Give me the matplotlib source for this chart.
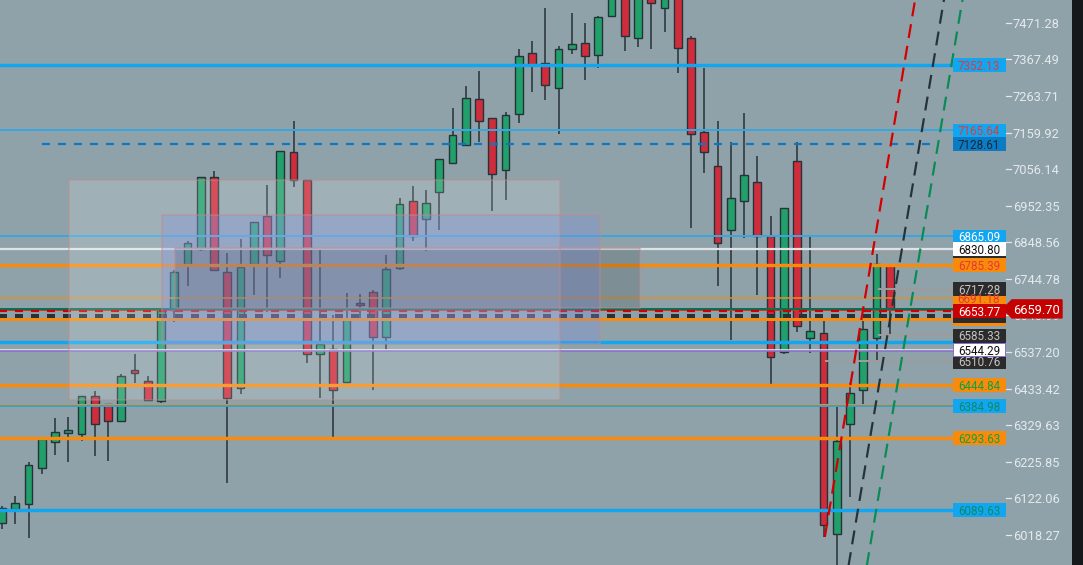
import matplotlib.pyplot as plt
import matplotlib.transforms as mtransforms
from matplotlib.patches import Rectangle, Polygon

plt.rcParams['lines.scale_dashes'] = False
FONT = ['Roboto', 'DejaVu Sans']

# candle data, one value per bar
opens = [6052.5, 6092.2, 6106.3, 6208.5, 6282.2, 6307.7, 6304.9, 6412.6, 6389.9, 6341.7,
         6486.3, 6455.2, 6398.5, 6656.5, 6787.0, 6829.5, 7033.7, 6764.3, 6435.3, 6787.0,
         6923.1, 6795.5, 7104.6, 7025.2, 6531.8, 6545.9, 6452.3, 6676.4, 6707.6, 6580.0,
         6775.6, 6965.7, 6914.6, 6991.2, 7073.4, 7124.5, 7254.9, 7201.1, 7053.6, 7212.4,
         7385.4, 7357.0, 7286.1, 7396.7, 7413.7, 7379.7, 7490.3, 7570.0, 7427.9, 7560.0,
         7513.0, 7580.0, 7427.9, 7161.3, 7064.9, 6883.4, 6965.7, 7019.5, 6866.4, 6537.4,
         7079.1, 6577.1, 6591.3, 6021.3, 6333.2, 6429.7, 6577.1, 6784.2]
highs = [6100.7, 6129.0, 6225.5, 6296.4, 6350.3, 6353.1, 6412.6, 6426.8, 6389.9, 6475.0,
         6531.8, 6469.3, 6656.5, 6770.0, 6852.2, 7033.7, 7050.7, 6818.2, 6857.9, 6906.1,
         7011.0, 7107.5, 7192.5, 7025.2, 6832.3, 6642.4, 6704.8, 6702.0, 6713.3, 6812.5,
         6974.2, 7008.2, 6996.9, 7084.8, 7229.4, 7291.8, 7334.3, 7201.1, 7218.1, 7396.7,
         7419.4, 7513.0, 7405.2, 7498.8, 7470.5, 7490.3, 7580.0, 7590.0, 7580.0, 7580.0,
         7590.0, 7600.0, 7433.6, 7342.8, 7192.5, 7133.0, 7215.2, 7093.3, 6923.1, 6945.8,
         7133.0, 6866.4, 6628.2, 6389.9, 6449.5, 6631.0, 6815.4, 6784.2]
lows = [6035.4, 6049.6, 6009.9, 6191.4, 6245.3, 6225.5, 6285.0, 6242.5, 6228.3, 6341.7,
        6449.5, 6401.3, 6392.8, 6622.5, 6724.6, 6823.9, 6770.0, 6165.9, 6418.3, 6699.1,
        6650.9, 6747.3, 7005.4, 6506.2, 6407.0, 6296.4, 6452.3, 6628.2, 6429.7, 6543.1,
        6770.0, 6852.2, 6823.9, 6883.4, 7073.4, 7124.5, 7133.0, 6937.3, 6968.5, 7186.9,
        7274.8, 7252.1, 7155.7, 7382.6, 7308.8, 7342.8, 7490.3, 7391.1, 7402.4, 7396.7,
        7444.9, 7328.7, 6889.1, 7045.1, 6724.6, 6571.5, 6860.7, 6699.1, 6446.7, 6531.8,
        6594.2, 6534.6, 6012.8, 5919.2, 6126.2, 6387.1, 6511.9, 6585.6]
closes = [6095.0, 6109.2, 6217.0, 6290.7, 6310.5, 6316.2, 6412.6, 6333.2, 6341.7, 6469.3,
          6477.8, 6401.3, 6656.5, 6764.3, 6846.6, 7033.7, 6770.0, 6407.0, 6778.5, 6906.1,
          6812.5, 7107.5, 7025.2, 6531.8, 6560.1, 6429.7, 6631.0, 6670.7, 6580.0, 6772.8,
          6957.2, 6866.4, 6960.0, 7084.8, 7152.8, 7257.8, 7192.5, 7042.2, 7209.5, 7376.9,
          7351.4, 7294.6, 7396.7, 7410.9, 7376.9, 7487.5, 7560.0, 7433.6, 7560.0, 7527.2,
          7570.0, 7399.6, 7155.7, 7104.6, 6846.6, 6974.2, 7039.4, 6866.4, 6523.2, 6945.8,
          6611.2, 6597.0, 6046.8, 6285.0, 6421.1, 6602.7, 6787.0, 6659.7]

# price scale ticks
ticks = [7471.28, 7367.49, 7263.71, 7159.92, 7056.14, 6952.35, 6848.56, 6744.78,
         6640.99, 6537.20, 6433.42, 6329.63, 6225.85, 6122.06, 6018.27]

# horizontal levels
level_prices = [7352.13, 7165.64, 7128.61, 6865.09, 6830.80, 6818.2, 6785.39, 6717.28,
                6691.18, 6659.70, 6656.5, 6653.77, 6640.0, 6632.0, 6585.33, 6566.6,
                6544.29, 6540.0, 6510.76, 6444.84, 6389.0, 6384.98, 6293.63, 6089.63]
level_start = [-1, -1, 3.0, -1, -1, 61.1, -1, 66.1,
               -1, -1, -1, -1, -1, -1, 66.1, -1,
               -1, -1, 62.1, -1, -1, -1, -1, -1]

# price tags on the right (in drawing order); empty text = tag hidden under others
tag_prices = [7352.13, 7165.64, 7128.61, 6865.09, 6818.2, 6830.80, 6785.39, 6691.18,
              6717.28, 6632.0, 6640.0, 6653.77, 6566.6, 6510.76, 6585.33, 6544.29,
              6444.84, 6384.98, 6293.63, 6089.63]
tag_text = ['7352.13', '7165.64', '7128.61', '6865.09', '', '6830.80', '6785.39', '6691.18',
            '6717.28', '', '', '6653.77', '', '6510.76', '6585.33', '6544.29',
            '6444.84', '6384.98', '6293.63', '6089.63']
last_price = 6659.70

# zones
zone_left = [5.05, 12.08, 13.06]
zone_right = [42.1, 45.13, 48.15]
zone_top = [7025.2, 6925.9, 6832.3]
zone_bottom = [6401.3, 6560.1, 6662.2]

# trend lines (bar index, price)
trend_x = [[62.1, 69.6], [63.5, 71.6], [64.9, 73.0]]
trend_y = [[6012.8, 7690.0], [5845.0, 7650.0], [5850.0, 7650.0]]

BLUE = '#12a6f0'
ORANGE = '#f88a0c'
BG = '#8fa2aa'
level_style = [
    (BLUE, 3.4, '-'), ('#3aa6e0', 2.0, '-'), ('#0a78c8', 2.2, 'd'), ('#3aa6e0', 2.0, '-'),
    ('#dfe3e5', 2.2, '-'), ('#9c9c9c', 2.0, '-'), (ORANGE, 3.4, '-'), ('#9c9c9c', 2.0, '-'),
    ('#e0922a', 1.5, '-'), ('#0b6e4f', 2.0, '-'), ('#c0392b', 1.0, '-'), ('#d00000', 2.2, 'd'),
    ('#263238', 4.0, 'd'), (ORANGE, 3.0, '-'), ('#9c9c9c', 2.0, '-'), (BLUE, 3.4, '-'),
    ('#e6e8ea', 1.6, '-'), ('#8a70c8', 1.6, '-'), ('#9c9c9c', 2.0, '-'), (ORANGE, 3.4, '-'),
    ('#e0922a', 1.0, '-'), ('#3aa0cc', 2.0, '-'), (ORANGE, 3.4, '-'), (BLUE, 3.4, '-')]
tag_style = [
    (BLUE, '#e53935'), (BLUE, '#e53935'), ('#0b7cc4', '#13283a'), (BLUE, '#ffffff'),
    ('#2b2b2b', '#bdbdbd'), ('#ffffff', '#111111'), (ORANGE, '#e53935'), (ORANGE, '#e53935'),
    ('#2b2b2b', '#c4c4c4'), (ORANGE, '#e53935'), ('#2b2b2b', '#c4c4c4'), ('#cc0000', '#ffffff'),
    (BLUE, '#0a8a6a'), ('#2b2b2b', '#c4c4c4'), ('#2b2b2b', '#c4c4c4'), ('#ffffff', '#111111'),
    (ORANGE, '#14a040'), (BLUE, '#0a8a6a'), (ORANGE, '#14a040'), (BLUE, '#0a8a6a')]
trend_colors = ['#d40000', '#263238', '#0a8a55']

W, H = 1083, 565
PX = 0.72  # points per pixel at 100 dpi
fig = plt.figure(figsize=(W / 100, H / 100), dpi=100, facecolor=BG)
ax = fig.add_axes([0, 0, 1, 1])
ax.set_facecolor(BG)
ax.set_xlim(-2 / 13.25, (W - 2) / 13.25)
ax.set_ylim(5933.4, 7535.7)
ax.axis('off')
blend = mtransforms.blended_transform_factory(ax.transAxes, ax.transData)
line_end = (955 - 2) / 13.25

# candles
for i in range(len(opens)):
    up = closes[i] >= opens[i]
    col = '#22a06b' if up else '#d02d3c'
    ax.vlines(i, lows[i], highs[i], color='#263238', lw=1.1, zorder=2)
    lo = min(opens[i], closes[i])
    hgt = max(abs(closes[i] - opens[i]), 3)
    ax.add_patch(Rectangle((i - 0.29, lo), 0.58, hgt, facecolor=col, edgecolor='#263238',
                           lw=1.0, zorder=2.1))

# levels
for p, st, (c, lw, ls) in zip(level_prices, level_start, level_style):
    x1 = 70.4 if ls == 'd' and c == '#0a78c8' else line_end
    x0 = st if st >= 0 else -1
    dash = (0, (8 * PX, 8 * PX)) if ls == 'd' else '-'
    ax.plot([x0, x1], [p, p], color=c, lw=lw * PX, ls=dash, zorder=3, solid_capstyle='butt')

# trend lines
for tx, ty, c in zip(trend_x, trend_y, trend_colors):
    ax.plot(tx, ty, color=c, lw=2.2 * PX, ls=(0, (14 * PX, 8 * PX)), zorder=3.5)

# zones
zone_fill = [('#ffffff', 0.16), ('#7f90e6', 0.30), ('#000000', 0.12)]
for l, r, t, b, (fc, a) in zip(zone_left, zone_right, zone_top, zone_bottom, zone_fill):
    ax.add_patch(Rectangle((l, b), r - l, t - b, facecolor=fc, alpha=a, lw=0, zorder=4))
    ax.add_patch(Rectangle((l, b), r - l, t - b, facecolor='none', edgecolor='#c08a8a',
                           alpha=0.55, lw=1.5 * PX, zorder=4.1))

# price scale
unit = 2.836  # price per pixel
for t in ticks:
    ax.plot([1006 / W, 1011 / W], [t, t], transform=blend, color='#e4eaec', lw=1.2 * PX, zorder=5)
    ax.text(1013 / W, t, f'{t:.2f}', transform=blend, fontsize=9.3, family=FONT,
            color='#e4eaec', ha='left', va='center_baseline', zorder=5)

# price tags
for p, s, (bg, fg) in zip(tag_prices, tag_text, tag_style):
    ec = '#8a70c8' if s == '6544.29' else bg
    ax.add_patch(Rectangle((953 / W, p - 6.5 * unit), 52 / W, 13 * unit, transform=blend,
                           facecolor=bg, edgecolor=ec, lw=1.0 * PX, zorder=6))
    if s:
        ax.text(979 / W, p, s, transform=blend, fontsize=8.4, family=FONT, color=fg,
                ha='center', va='center_baseline', zorder=6.1)

# last price marker
hh = 9 * unit
pts = [(1003 / W, last_price), (1012 / W, last_price + hh), (1062 / W, last_price + hh),
       (1062 / W, last_price - hh), (1012 / W, last_price - hh)]
ax.add_patch(Polygon(pts, closed=True, transform=blend, facecolor='#c40000',
                     edgecolor='#c40000', zorder=7))
ax.text(1037 / W, last_price, f'{last_price:.2f}', transform=blend, fontsize=9.3,
        family=FONT, color='#ffffff', ha='center', va='center_baseline', zorder=7.1)

# right border strip
ax.add_patch(Rectangle((1072 / W, 0), 11 / W, 1, transform=ax.transAxes,
                       facecolor='#15191c', lw=0, zorder=8))

fig.savefig('out.png', dpi=100, facecolor=BG)
